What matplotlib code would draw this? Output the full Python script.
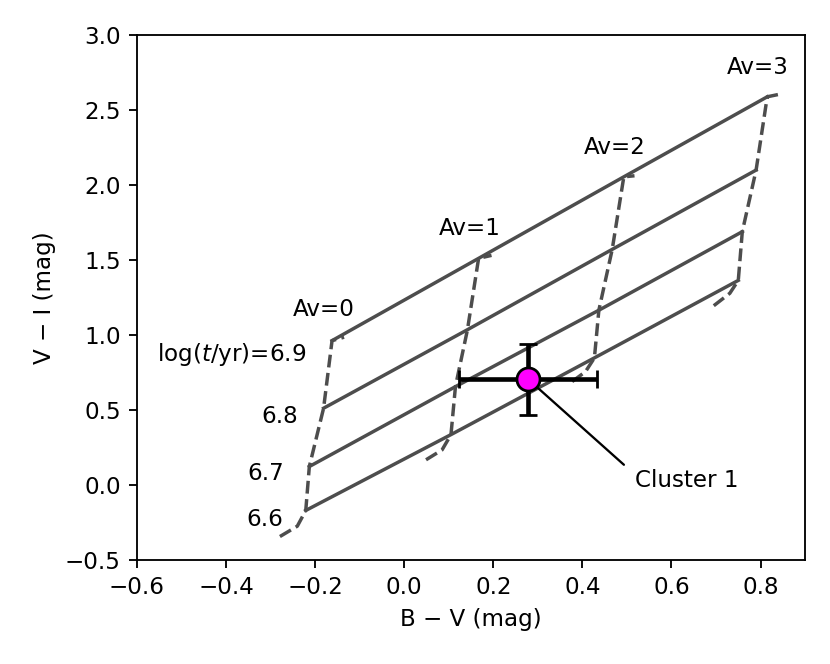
import numpy as np
import matplotlib
matplotlib.use("Agg")
import matplotlib.pyplot as plt

# model tracks (B-V, V-I) for each extinction
# points 2..5 are the ages 6.6, 6.7, 6.8, 6.9
av_values = [0, 1, 2, 3]
track_bv = [
    [-0.279, -0.240, -0.221, -0.213, -0.181, -0.162, -0.135],
    [0.049, 0.085, 0.105, 0.115, 0.142, 0.167, 0.196],
    [0.377, 0.407, 0.427, 0.437, 0.467, 0.493, 0.517],
    [0.695, 0.731, 0.750, 0.759, 0.790, 0.815, 0.841],
]
track_vi = [
    [-0.345, -0.276, -0.171, 0.122, 0.511, 0.962, 0.985],
    [0.167, 0.233, 0.335, 0.655, 1.035, 1.511, 1.531],
    [0.689, 0.755, 0.847, 1.165, 1.571, 2.055, 2.062],
    [1.195, 1.278, 1.364, 1.689, 2.100, 2.589, 2.605],
]
age_index = [2, 3, 4, 5]
age_labels = ["6.6", "6.7", "6.8", "log($t$/yr)=6.9"]
age_label_x = [-0.272, -0.269, -0.238, -0.219]
age_label_y = [-0.229, 0.078, 0.455, 0.867]

av_label_x = [-0.180, 0.148, 0.472, 0.793]
av_label_y = [1.171, 1.713, 2.253, 2.787]

# cluster measurement
cl_bv, cl_vi = 0.278, 0.705
cl_bv_err, cl_vi_err = 0.154, 0.236
cl_name = "Cluster 1"

col = "0.3"

fig = plt.figure(figsize=(5, 4), dpi=166)
ax = fig.add_axes([0.165, 0.157, 0.805, 0.79])

for i in range(len(av_values)):
    ax.plot(track_bv[i], track_vi[i], "--", color=col, lw=1.5)
    ax.text(av_label_x[i], av_label_y[i], "Av=%d" % av_values[i],
            ha="center", va="center", fontsize=10)

for j, k in enumerate(age_index):
    xs = [track_bv[i][k] for i in range(len(av_values))]
    ys = [track_vi[i][k] for i in range(len(av_values))]
    ax.plot(xs, ys, "-", color=col, lw=1.5)
    ax.text(age_label_x[j], age_label_y[j], age_labels[j],
            ha="right", va="center", fontsize=10)

ax.errorbar(cl_bv, cl_vi, xerr=cl_bv_err, yerr=cl_vi_err, fmt="o",
            color="k", mfc="magenta", mec="k", ms=10, mew=1.2,
            elinewidth=2, capsize=4, capthick=1.5, zorder=5)
ax.annotate(cl_name, xy=(cl_bv, cl_vi), xytext=(0.519, 0.027),
            ha="left", va="center", fontsize=10,
            arrowprops=dict(arrowstyle="-", color="k", lw=1,
                            relpos=(0, 0.75), shrinkA=4, shrinkB=0), zorder=4)

ax.set_xlim(-0.6, 0.9)
ax.set_ylim(-0.5, 3.0)
ax.set_xticks(np.arange(-0.6, 0.81, 0.2))
ax.set_yticks(np.arange(-0.5, 3.01, 0.5))
ax.set_xlabel("B \u2212 V (mag)")
ax.set_ylabel("V \u2212 I (mag)")

fig.savefig("out.png", dpi=166)
